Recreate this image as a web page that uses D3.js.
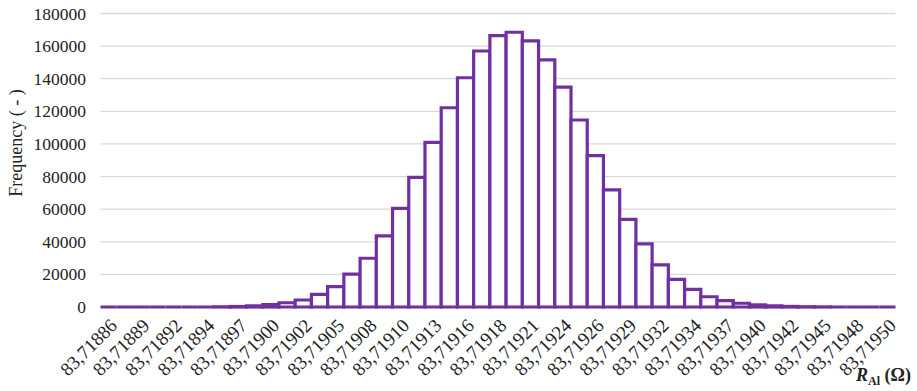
<!DOCTYPE html>
<html>
<head>
<meta charset="utf-8">
<script src="https://cdn.jsdelivr.net/npm/d3@7"></script>
<style>
  body { margin: 0; background: #fff; }
  svg text { font-family: "Liberation Serif", "Times New Roman", "DejaVu Serif", serif; fill: #222; }
</style>
</head>
<body>
<svg id="chart"></svg>
<script>
const width = 917;
const height = 391;
const serif = "'Liberation Serif', 'Times New Roman', 'DejaVu Serif', serif";

// valores de frecuencia por clase (49 clases)
const frequency = [
  0, 0, 0, 0, 0, 0, 0, 100, 300, 700,
  1500, 2600, 4300, 7800, 12500, 20200, 29900, 43600, 60500, 79500,
  101000, 122200, 140600, 157000, 166400, 168500, 163200, 151500, 134800, 114700,
  92800, 71800, 53800, 38700, 25800, 17000, 10800, 6300, 3900, 2300,
  1300, 700, 350, 150, 50, 0, 0, 0, 0
];

// etiquetas del eje x (una cada dos clases)
const tickLabels = [
  "83,71886", "83,71889", "83,71892", "83,71894", "83,71897", "83,71900",
  "83,71902", "83,71905", "83,71908", "83,71910", "83,71913", "83,71916",
  "83,71918", "83,71921", "83,71924", "83,71926", "83,71929", "83,71932",
  "83,71934", "83,71937", "83,71940", "83,71942", "83,71945", "83,71948",
  "83,71950"
];

const yTicks = [0, 20000, 40000, 60000, 80000, 100000, 120000, 140000, 160000, 180000];

const svg = d3.select("#chart")
  .attr("width", width)
  .attr("height", height);

const x = d3.scaleBand()
  .domain(d3.range(frequency.length))
  .range([100.5, 895.5])
  .padding(0);

const y = d3.scaleLinear()
  .domain([0, 180000])
  .range([307, 13.5]);

// ===== GRID =====
svg.append("g")
  .selectAll("line")
  .data(yTicks.filter(d => d > 0))
  .join("line")
  .attr("x1", 100.5)
  .attr("x2", 895.5)
  .attr("y1", d => y(d))
  .attr("y2", d => y(d))
  .attr("stroke", "#d9d9d9")
  .attr("stroke-width", 1.3);

// ===== EJE Y =====
const yAxis = svg.append("g")
  .attr("transform", "translate(86,0)")
  .call(d3.axisLeft(y).tickValues(yTicks).tickFormat(d3.format("d")).tickSize(0).tickPadding(0));
yAxis.select(".domain").remove();
yAxis.selectAll("text")
  .style("font-family", serif)
  .style("font-size", "17.5px")
  .style("fill", "#222");

svg.append("text")
  .attr("transform", "translate(22,143) rotate(-90)")
  .attr("text-anchor", "middle")
  .style("font-family", serif)
  .style("font-size", "18px")
  .text("Frequency ( - )");

// ===== BARRAS =====
svg.append("g")
  .selectAll("path")
  .data(frequency)
  .join("path")
  .attr("d", (d, i) => {
    const x0 = x(i), x1 = x(i) + x.bandwidth();
    const y0 = y(0), y1 = y(d);
    return `M${x0},${y0}V${y1}H${x1}V${y0}Z`;
  })
  .attr("fill", "#fff")
  .attr("stroke", "#7030a0")
  .attr("stroke-width", 3.2)
  .attr("stroke-linejoin", "miter");

// ===== EJE X =====
const xAxis = svg.append("g")
  .attr("transform", `translate(0,${y(0)})`)
  .call(d3.axisBottom(x)
    .tickValues(d3.range(0, frequency.length, 2))
    .tickFormat((d, i) => tickLabels[i])
    .tickSize(0));
xAxis.select(".domain").remove();
xAxis.selectAll("text")
  .style("font-family", serif)
  .style("font-size", "19px")
  .style("fill", "#222")
  .attr("text-anchor", "end")
  .attr("transform", "translate(5,15) rotate(-45)")
  .attr("dy", "0.35em")
  .attr("dx", 0)
  .attr("y", 0);

const title = svg.append("text")
  .attr("x", 911)
  .attr("y", 381)
  .attr("text-anchor", "end")
  .style("font-family", serif)
  .style("font-weight", "bold")
  .style("font-size", "18px");
title.append("tspan").style("font-style", "italic").text("R");
title.append("tspan").style("font-size", "12px").attr("dy", 4).text("Al");
title.append("tspan").attr("dy", -4).text(" (Ω)");
</script>
</body>
</html>
